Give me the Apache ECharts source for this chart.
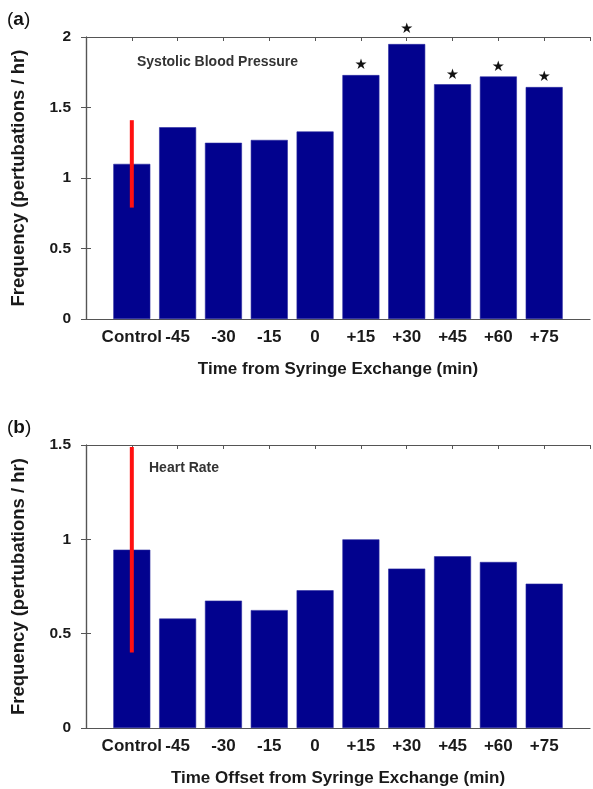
<!DOCTYPE html>
<html>
<head>
<meta charset="utf-8">
<script src="https://cdn.jsdelivr.net/npm/echarts@6/dist/echarts.min.js"></script>
<style>
html,body{margin:0;padding:0;background:#fff;}
#chart{width:593px;height:789px;}
</style>
</head>
<body>
<div id="chart"></div>
<script>
// ---- data ----
const categories = ['Control', '-45', '-30', '-15', '0', '+15', '+30', '+45', '+60', '+75'];
const sbpValues = [1.10, 1.36, 1.25, 1.27, 1.33, 1.73, 1.95, 1.665, 1.72, 1.645];
const sbpSignificant = [false, false, false, false, false, true, true, true, true, true];
const sbpControlError = 0.31;
const hrValues = [0.945, 0.58, 0.675, 0.625, 0.73, 1.0, 0.845, 0.91, 0.88, 0.765];
const hrControlError = 0.545;
const sbpYMax = 2;
const hrYMax = 1.5;
const yTickStep = 0.5;
const panelLabels = ['a', 'b'];
const panelTitles = ['Systolic Blood Pressure', 'Heart Rate'];
const xAxisTitles = ['Time from Syringe Exchange (min)', 'Time Offset from Syringe Exchange (min)'];
const yAxisTitle = 'Frequency (pertubations / hr)';

// ---- styles ----
const BAR = '#02028e';
const AXIS = '#555';
const TXT = '#1a1a1a';
const FONT = 'Liberation Sans, Arial, sans-serif';

const grids = [
  { left: 86, top: 37, width: 506, height: 282 },
  { left: 86, top: 445, width: 506, height: 283 }
];

function catLabel(v) {
  const i = Math.round(v) - 1;
  return (i >= 0 && i < categories.length) ? categories[i] : '';
}

const xAxes = [], yAxes = [], series = [];
[[sbpValues, sbpYMax, sbpControlError, sbpSignificant], [hrValues, hrYMax, hrControlError, null]].forEach((p, g) => {
  const [vals, ymax, err, sig] = p;
  xAxes.push({
    type: 'value', gridIndex: g, min: 0, max: categories.length + 1, interval: 1,
    axisLine: { show: true, onZero: false, lineStyle: { color: AXIS, width: 1.2 } },
    axisTick: { show: false }, splitLine: { show: false },
    axisLabel: { formatter: catLabel, fontSize: 17, fontWeight: 'bold', color: TXT, fontFamily: FONT, margin: 10, showMinLabel: true, showMaxLabel: true },
    name: xAxisTitles[g], nameLocation: 'middle', nameGap: 42,
    nameTextStyle: { fontSize: 17, fontWeight: 'bold', color: TXT, fontFamily: FONT }
  });
  xAxes.push({
    type: 'value', gridIndex: g, position: 'top', min: 0, max: categories.length + 1, interval: 1,
    axisLine: { show: true, onZero: false, lineStyle: { color: AXIS, width: 1.2 } },
    axisTick: { show: true, inside: true, length: 4, lineStyle: { color: AXIS } },
    splitLine: { show: false }, axisLabel: { show: false }
  });
  yAxes.push({
    type: 'value', gridIndex: g, min: 0, max: ymax, interval: yTickStep,
    axisLine: { show: true, lineStyle: { color: AXIS, width: 1.2 } },
    axisTick: { show: true, inside: true, length: 5, lineStyle: { color: AXIS } },
    splitLine: { show: false },
    axisLabel: { fontSize: 15.5, fontWeight: 'bold', color: TXT, fontFamily: FONT, margin: 15 },
    name: yAxisTitle, nameLocation: 'middle', nameGap: 58, nameRotate: 90,
    nameTextStyle: { fontSize: 18.5, fontWeight: 'bold', color: TXT, fontFamily: FONT }
  });
  yAxes.push({
    type: 'value', gridIndex: g, position: 'right', min: 0, max: ymax, interval: yTickStep,
    axisLine: { show: true, lineStyle: { color: AXIS, width: 1.2 } },
    axisTick: { show: true, inside: true, length: 5, lineStyle: { color: AXIS } },
    splitLine: { show: false }, axisLabel: { show: false }
  });
  const data = vals.map((v, i) => {
    const item = { value: [i + 1, v] };
    if (sig && sig[i]) {
      const tall = v >= Math.max(...vals);
      item.label = { show: true, formatter: '\u2605', position: 'top', distance: tall ? 7 : 2, fontSize: 14.5, color: '#111', fontFamily: 'DejaVu Sans' };
    }
    return item;
  });
  series.push({
    type: 'bar', xAxisIndex: g * 2, yAxisIndex: g * 2, barWidth: 37,
    itemStyle: { color: BAR, borderColor: '#2a2aa0', borderWidth: 0.6 },
    label: { show: false }, data: data, z: 2, animation: false
  });
  series.push({
    type: 'custom', xAxisIndex: g * 2, yAxisIndex: g * 2, z: 5, animation: false,
    renderItem: function (params, api) {
      const x = api.value(0), v = api.value(1), e = api.value(2);
      const top = api.coord([x, Math.min(v + e, ymax)]);
      const bot = api.coord([x, v - e]);
      return { type: 'rect', shape: { x: top[0] - 2, y: top[1], width: 4, height: bot[1] - top[1] }, style: { fill: '#ff1010' } };
    },
    data: [[1, vals[0], err]]
  });
});

const graphics = [];
panelLabels.forEach((l, g) => {
  graphics.push({
    type: 'text', left: 7, top: g === 0 ? 10 : 418,
    style: { text: '{p|(}{b|' + l + '}{p|)}', rich: {
      p: { fontSize: 19, fontFamily: FONT, fill: '#111' },
      b: { fontSize: 19, fontWeight: 'bold', fontFamily: FONT, fill: '#111' } } }
  });
});
graphics.push({ type: 'text', left: 137, top: 55, style: { text: panelTitles[0], fontSize: 14, fontWeight: 'bold', fill: '#333', fontFamily: FONT } });
graphics.push({ type: 'text', left: 149, top: 461, style: { text: panelTitles[1], fontSize: 14, fontWeight: 'bold', fill: '#333', fontFamily: FONT } });

const chart = echarts.init(document.getElementById('chart'), null, { renderer: 'canvas' });
chart.setOption({
  animation: false,
  backgroundColor: '#fff',
  grid: grids.map(g => Object.assign({ containLabel: false }, g)),
  xAxis: xAxes, yAxis: yAxes, series: series, graphic: graphics
});
</script>
</body>
</html>
